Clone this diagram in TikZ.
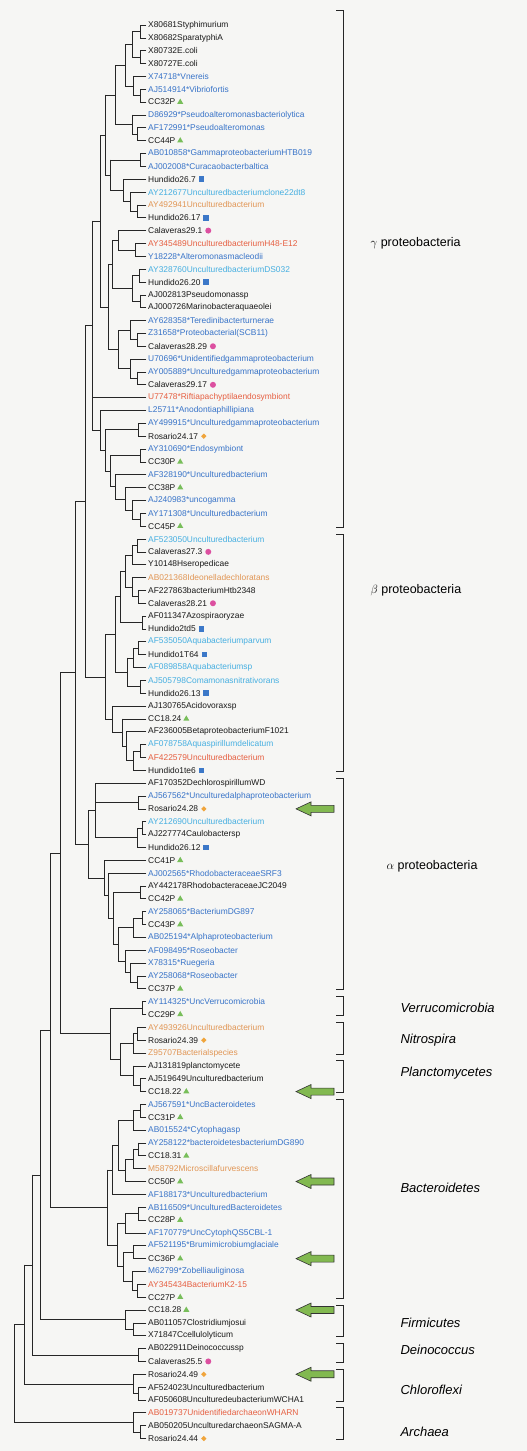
\documentclass[tikz,border=0pt]{standalone}
\usepackage{fontspec}
\setmainfont{Liberation Sans}
\usetikzlibrary{calc,shapes.geometric}
\definecolor{colk}{RGB}{25,25,25}
\definecolor{colb}{RGB}{55,115,200}
\definecolor{colc}{RGB}{70,175,225}
\definecolor{colo}{RGB}{225,150,85}
\definecolor{colr}{RGB}{230,95,65}
\definecolor{symgreen}{RGB}{120,190,90}
\definecolor{symblue}{RGB}{60,120,200}
\definecolor{sympink}{RGB}{220,80,160}
\definecolor{symorange}{RGB}{240,165,60}
\definecolor{arrgreen}{RGB}{130,185,80}
\definecolor{bgcol}{RGB}{246,246,244}
\newcommand\clade[3]{%
  \foreach \c [count=\i] in {#3}{\ifnum\i=1 \xdef\cfirst{\c}\fi\xdef\clast{\c}}%
  \coordinate (#1m) at ($(\cfirst)!0.5!(\clast)$);%
  \coordinate (#1) at (#2,0 |- #1m);%
  \draw[br] (#1 |- \cfirst) -- (#1 |- \clast);%
  \foreach \c in {#3}{\draw[br] (#1 |- \c) -- (\c);}%
}
\begin{document}
\begin{tikzpicture}[x=1pt,y=-1pt,
  br/.style={line width=0.7pt,black!85,line cap=rect},
  lab/.style={anchor=west,inner sep=0.5pt,font=\fontsize{8.4}{9}\selectfont},
  symt/.style={regular polygon,regular polygon sides=3,fill=symgreen,inner sep=0pt,minimum size=7pt},
  syms/.style={rectangle,fill=symblue,inner sep=0pt,minimum size=5.5pt},
  symc/.style={circle,fill=sympink,inner sep=0pt,minimum size=6pt},
  symd/.style={diamond,fill=symorange,inner sep=0pt,minimum size=5.5pt},
  symn/.style={inner sep=0pt,minimum size=0pt},
  garrow/.style={fill=arrgreen,draw=black!80,line width=0.6pt},
  grp/.style={line width=0.8pt,black!85},
  glab/.style={anchor=west,font=\fontsize{12.5}{14}\selectfont},
  glabi/.style={anchor=west,font=\fontsize{13}{15}\selectfont\itshape}]
\useasboundingbox (0,0) rectangle (527,1451);
\fill[bgcol] (0,0) rectangle (527,1451);
\foreach \lab/\col/\sym [count=\i] in {
X80681Styphimurium/k/n,
X80682SparatyphiA/k/n,
X80732E.coli/k/n,
X80727E.coli/k/n,
X74718*Vnereis/b/n,
AJ514914*Vibriofortis/b/n,
CC32P/k/t,
D86929*Pseudoalteromonasbacteriolytica/b/n,
AF172991*Pseudoalteromonas/b/n,
CC44P/k/t,
AB010858*GammaproteobacteriumHTB019/b/n,
AJ002008*Curacaobacterbaltica/b/n,
Hundido26.7/k/s,
AY212677Unculturedbacteriumclone22dt8/c/n,
AY492941Unculturedbacterium/o/n,
Hundido26.17/k/s,
Calaveras29.1/k/c,
AY345489UnculturedbacteriumH48-E12/r/n,
Y18228*Alteromonasmacleodii/b/n,
AY328760UnculturedbacteriumDS032/c/n,
Hundido26.20/k/s,
AJ002813Pseudomonassp/k/n,
AJ000726Marinobacteraquaeolei/k/n,
AY628358*Teredinibacterturnerae/b/n,
Z31658*Proteobacterial(SCB11)/b/n,
Calaveras28.29/k/c,
U70696*Unidentifiedgammaproteobacterium/b/n,
AY005889*Unculturedgammaproteobacterium/b/n,
Calaveras29.17/k/c,
U77478*Riftiapachyptilaendosymbiont/r/n,
L25711*Anodontiaphillipiana/b/n,
AY499915*Unculturedgammaproteobacterium/b/n,
Rosario24.17/k/d,
AY310690*Endosymbiont/b/n,
CC30P/k/t,
AF328190*Unculturedbacterium/b/n,
CC38P/k/t,
AJ240983*uncogamma/b/n,
AY171308*Unculturedbacterium/b/n,
CC45P/k/t,
AF523050Unculturedbacterium/c/n,
Calaveras27.3/k/c,
Y10148Hseropedicae/k/n,
AB021368Ideonelladechloratans/o/n,
AF227863bacteriumHtb2348/k/n,
Calaveras28.21/k/c,
AF011347Azospiraoryzae/k/n,
Hundido2td5/k/s,
AF535050Aquabacteriumparvum/c/n,
Hundido1T64/k/s,
AF089858Aquabacteriumsp/c/n,
AJ505798Comamonasnitrativorans/c/n,
Hundido26.13/k/s,
AJ130765Acidovoraxsp/k/n,
CC18.24/k/t,
AF236005BetaproteobacteriumF1021/k/n,
AF078758Aquaspirillumdelicatum/c/n,
AF422579Unculturedbacterium/r/n,
Hundido1te6/k/s,
AF170352DechlorospirillumWD/k/n,
AJ567562*Unculturedalphaproteobacterium/b/n,
Rosario24.28/k/d,
AY212690Unculturedbacterium/c/n,
AJ227774Caulobactersp/k/n,
Hundido26.12/k/s,
CC41P/k/t,
AJ002565*RhodobacteraceaeSRF3/b/n,
AY442178RhodobacteraceaeJC2049/k/n,
CC42P/k/t,
AY258065*BacteriumDG897/b/n,
CC43P/k/t,
AB025194*Alphaproteobacterium/b/n,
AF098495*Roseobacter/b/n,
X78315*Ruegeria/b/n,
AY258068*Roseobacter/b/n,
CC37P/k/t,
AY114325*UncVerrucomicrobia/b/n,
CC29P/k/t,
AY493926Unculturedbacterium/o/n,
Rosario24.39/k/d,
Z95707Bacterialspecies/o/n,
AJ131819planctomycete/k/n,
AJ519649Unculturedbacterium/k/n,
CC18.22/k/t,
AJ567591*UncBacteroidetes/b/n,
CC31P/k/t,
AB015524*Cytophagasp/b/n,
AY258122*bacteroidetesbacteriumDG890/b/n,
CC18.31/k/t,
M58792Microscillafurvescens/o/n,
CC50P/k/t,
AF188173*Unculturedbacterium/b/n,
AB116509*UnculturedBacteroidetes/b/n,
CC28P/k/t,
AF170779*UncCytophQS5CBL-1/b/n,
AF521195*Brumimicrobiumglaciale/b/n,
CC36P/k/t,
M62799*Zobelliauliginosa/b/n,
AY345434BacteriumK2-15/r/n,
CC27P/k/t,
CC18.28/k/t,
AB011057Clostridiumjosui/k/n,
X71847Ccellulolyticum/k/n,
AB022911Deinococcussp/k/n,
Calaveras25.5/k/c,
Rosario24.49/k/d,
AF524023Unculturedbacterium/k/n,
AF050608UnculturedeubacteriumWCHA1/k/n,
AB019737UnidentifiedarchaeonWHARN/r/n,
AB050205UnculturedarchaeonSAGMA-A/k/n,
Rosario24.44/k/d}{
  \pgfmathsetmacro\yy{25+(\i-1)*12.85}
  \coordinate (L\i) at (146,\yy);
  \node[lab,text=col\col] (T\i) at (147.5,\yy) {\lab};
  \node[sym\sym,anchor=west] (S\i) at ([xshift=2pt]T\i.east) {};
}
% gamma
\clade{g1}{140}{L1,L2}
\clade{g2}{140}{L3,L4}
\clade{g3}{132}{g1,g2}
\clade{g4}{140}{L6,L7}
\clade{g5}{133}{L5,g4}
\clade{g6}{125}{g3,g5}
\clade{g7}{137}{L9,L10}
\clade{g8}{132}{L8,g7}
\clade{g9}{115}{g6,g8}
\clade{g10}{140}{L11,L12}
\clade{g11}{137}{L15,L16}
\clade{g12}{130}{L14,g11}
\clade{g13}{123}{L13,g12}
\clade{g14}{110}{g10,g13}
\clade{g15}{105}{g9,g14}
\clade{g16}{135}{L18,L19}
\clade{g17}{118}{L17,g16}
\clade{g18}{139}{L20,L21}
\clade{g19}{140}{L22,L23}
\clade{g20}{132}{g18,g19}
\clade{g21}{112}{g17,g20}
\clade{g22}{137}{L25,L26}
\clade{g23}{130}{L24,g22}
\clade{g25}{137}{L28,L29}
\clade{g26}{130}{L27,g25}
\clade{g27}{118}{g23,g26}
\clade{g28}{108}{g21,g27}
\clade{g29}{100}{g15,g28}
\clade{g30}{138}{L32,L33}
\clade{g31}{140}{L34,L35}
\clade{g32}{140}{L39,L40}
\clade{g33}{132}{L38,g32}
\clade{g34}{125}{L37,g33}
\clade{g35}{115}{L36,g34}
\clade{g36}{110}{g31,g35}
\clade{g37}{105}{g30,g36}
\clade{g38}{100}{L31,g37}
\clade{gC}{92}{g29,L30,g38}
% beta
\clade{b1}{137}{L41,L42}
\clade{b2}{132}{b1,L43}
\clade{b3}{138}{L45,L46}
\clade{b4}{132}{L44,b3}
\clade{b5}{125}{b2,b4}
\clade{b6}{142}{L47,L48}
\clade{b7}{120}{b5,b6}
\clade{b8}{138}{L49,L50}
\clade{b9}{133}{b8,L51}
\clade{b10}{140}{L52,L53}
\clade{b11}{127}{b9,b10}
\clade{b12}{115}{b7,b11}
\clade{b13}{140}{L57,L58}
\clade{b14}{133}{b13,L59}
\clade{b15}{126}{L56,b14}
\clade{b16}{122}{L55,b15}
\clade{b17}{112}{L54,b16}
\clade{b18}{105}{b12,b17}
\clade{bg}{85}{gC,b18}
% alpha
\clade{a1}{138}{L61,L62}
\clade{a2}{142}{L63,L64}
\clade{a3}{137}{a2,L65}
\clade{a16}{95}{L60,a1,a3}
\clade{a4}{140}{L68,L69}
\clade{a5}{142}{L70,L71}
\clade{a6}{133}{a5,L72}
\clade{a7}{137}{L75,L76}
\clade{a8}{130}{L74,a7}
\clade{a9}{125}{L73,a8}
\clade{a10}{118}{a6,a9}
\clade{a11}{113}{a4,a10}
\clade{a12}{108}{L67,a11}
\clade{a13}{104}{L66,a12}
\clade{alpha}{88}{a16,a13}
\clade{bga}{75}{bg,alpha}
% verruco, nitro, plancto
\clade{v1}{142}{L77,L78}
\clade{n1}{137}{L79,L80}
\clade{n2}{133}{n1,L81}
\clade{p1}{140}{L83,L84}
\clade{p2}{133}{L82,p1}
\clade{np}{120}{n2,p2}
\clade{vnp}{110}{v1,np}
% bacteroidetes
\clade{c1}{140}{L85,L86}
\clade{c2}{133}{c1,L87}
\clade{c3}{138}{L88,L89}
\clade{c4}{133}{c3,L90}
\clade{c5}{125}{c4,L91}
\clade{c6}{118}{c2,c5}
\clade{c7}{112}{c6,L92}
\clade{c8}{138}{L93,L94}
\clade{c9}{125}{c8,L95}
\clade{c10}{133}{L96,L97}
\clade{c11}{137}{L99,L100}
\clade{c12}{132}{L98,c11}
\clade{c13}{123}{c10,c12}
\clade{c14}{117}{c9,c13}
\clade{c15}{107}{c7,c14}
% others
\clade{f1}{133}{L102,L103}
\clade{f2}{125}{L101,f1}
\clade{d1}{138}{L104,L105}
\clade{h1}{138}{L107,L108}
\clade{h2}{133}{L106,h1}
\clade{r1}{140}{L110,L111}
\clade{r2}{133}{L109,r1}
% backbone
\clade{k1}{60}{bga,vnp}
\clade{k2}{50}{k1,c15}
\clade{k3}{40}{k2,f2}
\clade{k4}{32}{k3,d1}
\clade{k5}{24}{k4,h2}
\clade{k6}{14}{k5,r2}
% arrows
\foreach \k in {62,84,91,97,101,106}{
  \draw[garrow,shift={(L\k)}] (150,0) -- (165,-7) -- (165,-3.5) -- (188,-3.5) -- (188,3.5) -- (165,3.5) -- (165,7) -- cycle;
}
% group brackets
\foreach \a/\b/\u in {1/40/15,41/59/5,60/76/5,77/78/5,79/81/5,82/84/5,85/100/5,101/103/5,104/105/5,106/108/5,109/111/5}{
  \draw[grp] ([yshift=\u pt]L\a -| 336,0) -- ([yshift=\u pt]L\a -| 343,0) -- ([yshift=-1pt]L\b -| 343,0) -- ([yshift=-1pt]L\b -| 336,0);
}
\foreach \p/\x/\t/\s/\n in {18/367/{$\gamma$ proteobacteria}/glab/G1,45/367/{$\beta$ proteobacteria}/glab/G2,66.5/383/{$\alpha$ proteobacteria}/glab/G3,77.5/397/Verrucomicrobia/glabi/G4,80/397/Nitrospira/glabi/G5,82.6/397/Planctomycetes/glabi/G6,91.5/397/Bacteroidetes/glabi/G7,102/397/Firmicutes/glabi/G8,104.1/397/Deinococcus/glabi/G9,107.2/397/Chloroflexi/glabi/G10,110.5/397/Archaea/glabi/G11}{
  \pgfmathsetmacro\yy{25+(\p-1)*12.85}
  \node[\s] (\n) at (\x,\yy) {\t};
}
\end{tikzpicture}
\end{document}
